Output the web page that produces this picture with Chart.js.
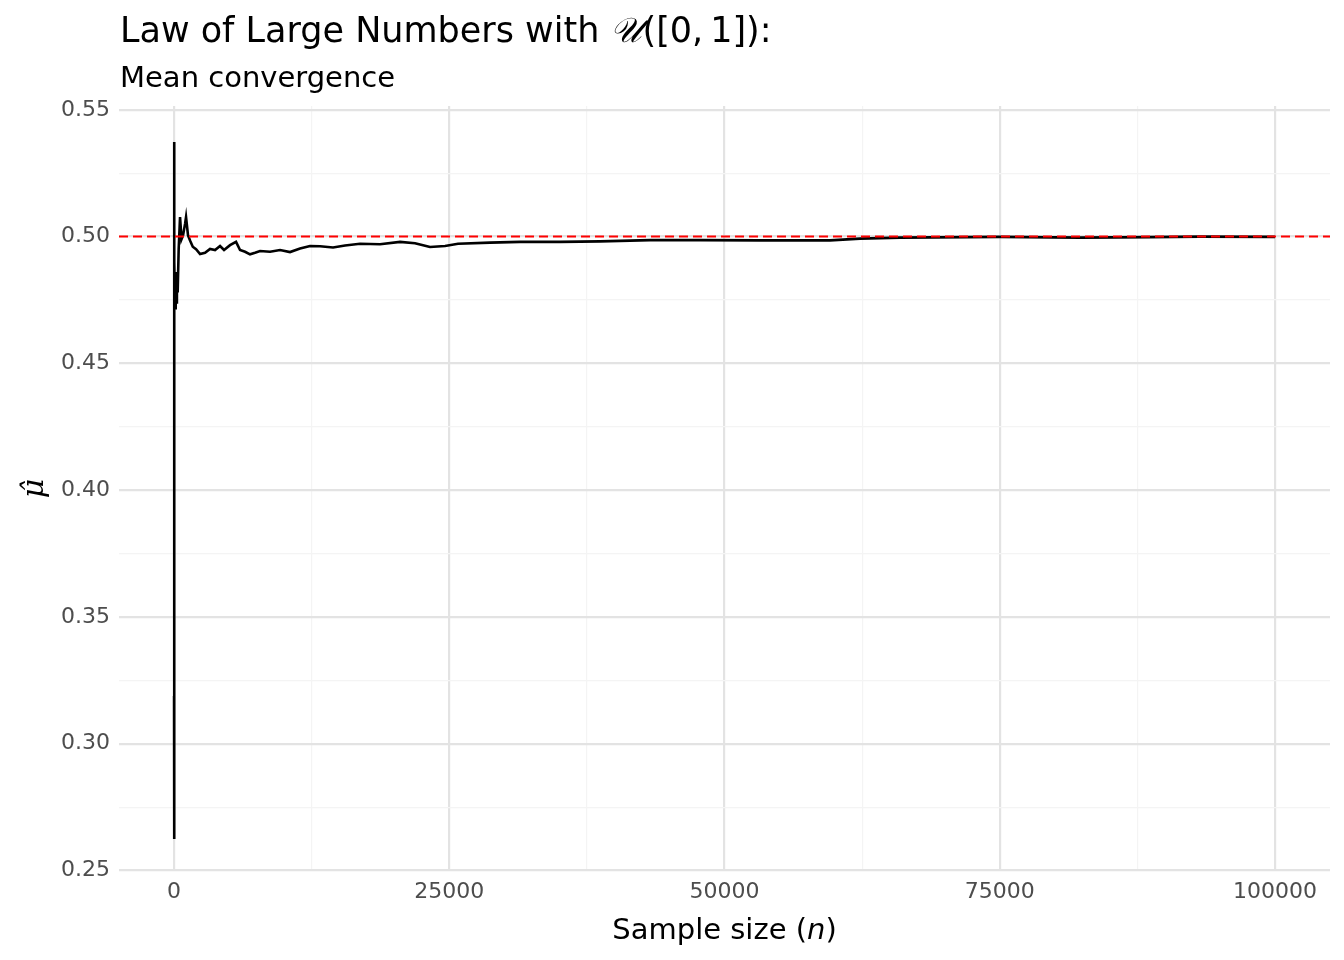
<!DOCTYPE html>
<html>
<head>
<meta charset="utf-8">
<script src="https://cdn.jsdelivr.net/npm/chart.js@4"></script>
<style>
  body { margin: 0; background: #fff; }
  canvas { display: block; }
</style>
</head>
<body>
<canvas id="myChart" width="1344" height="960"></canvas>
<script>
// running mean of U(0,1) draws
let sampleSize = [1, 2, 3, 4, 5, 6, 8, 12, 20, 40,
  70, 100, 150, 200, 260, 330, 420, 545, 680, 817,
  1000, 1090, 1270, 1453, 1700, 2000, 2362, 2816, 3270, 3724,
  4178, 4542, 5086, 5631, 5995, 6449, 6903, 7357, 7811, 8720,
  9628, 10536, 11445, 12353, 13261, 14442, 15532, 16894, 18711, 20528,
  21890, 23252, 24615, 25796, 28702, 31427, 35060, 38694, 43235, 47777,
  53227, 59584, 62309, 65942, 75026, 82292, 88650, 93192, 100000];
let muHat = [0.3188, 0.2624, 0.41, 0.46, 0.50, 0.5373, 0.52, 0.50, 0.48, 0.50,
  0.49, 0.4718, 0.486, 0.474, 0.484, 0.478, 0.495, 0.5077, 0.499, 0.5005,
  0.505, 0.5077, 0.5005, 0.4985, 0.4960, 0.4950, 0.4931, 0.4936, 0.4951, 0.4947,
  0.4963, 0.4947, 0.4966, 0.4979, 0.4947, 0.4940, 0.4930, 0.4936, 0.4943, 0.4940,
  0.4947, 0.4939, 0.4953, 0.4963, 0.4962, 0.4957, 0.4965, 0.4972, 0.4970, 0.4979,
  0.4974, 0.4959, 0.4963, 0.4972, 0.4976, 0.4979, 0.4979, 0.4981, 0.4986, 0.4986,
  0.4985, 0.4985, 0.4992, 0.4996, 0.4999, 0.4996, 0.4998, 0.5000, 0.4999];
let trueMean = 0.5;

let xMajorTicks = [0, 25000, 50000, 75000, 100000];
let xMinorTicks = [12500, 37500, 62500, 87500];
let yMajorTicks = [0.25, 0.30, 0.35, 0.40, 0.45, 0.50, 0.55];
let yMinorTicks = [0.275, 0.325, 0.375, 0.425, 0.475, 0.525];

Chart.defaults.font.family = "'DejaVu Sans', sans-serif";

let lineData = sampleSize.map((n, i) => ({ x: n, y: muHat[i] }));
let refLine = [{ x: -5000, y: trueMean }, { x: 105000, y: trueMean }];

function isMajor(list, v) {
  return list.some(t => Math.abs(t - v) < 1e-9);
}

// titles and axis titles, drawn where ggplot puts them
let textPlugin = {
  id: "texts",
  afterDraw(chart) {
    let c = chart.ctx;
    let area = chart.chartArea;
    c.save();
    c.fillStyle = "#000";
    c.textBaseline = "alphabetic";
    c.textAlign = "left";

    c.font = "35px 'DejaVu Sans'";
    let t1 = "Law of Large Numbers with ";
    c.fillText(t1, 120, 42);
    let w1 = c.measureText(t1).width;
    c.font = "italic 35px 'DejaVu Serif'";
    c.fillText("\u{1D4B0}", 120 + w1, 42);
    let w2 = c.measureText("\u{1D4B0}").width;
    c.font = "35px 'DejaVu Sans'";
    c.fillText("([0,\u20091]):", 120 + w1 + w2, 42);

    c.font = "29px 'DejaVu Sans'";
    c.fillText("Mean convergence", 120, 87);

    // x title with italic n
    let a = "Sample size (", b = "n", d = ")";
    c.font = "29px 'DejaVu Sans'";
    let wa = c.measureText(a).width, wd = c.measureText(d).width;
    c.font = "italic 29px 'DejaVu Sans'";
    let wb = c.measureText(b).width;
    let x0 = (area.left + area.right) / 2 - (wa + wb + wd) / 2;
    c.font = "29px 'DejaVu Sans'";
    c.fillText(a, x0, 939);
    c.font = "italic 29px 'DejaVu Sans'";
    c.fillText(b, x0 + wa, 939);
    c.font = "29px 'DejaVu Sans'";
    c.fillText(d, x0 + wa + wb, 939);

    // y title
    c.translate(43, (area.top + area.bottom) / 2);
    c.rotate(-Math.PI / 2);
    c.textAlign = "center";
    c.font = "italic 30px 'DejaVu Serif'";
    c.fillText("\u03BC\u0302", 0, 0);
    c.restore();
  }
};

let ctx = document.getElementById("myChart").getContext("2d");
let myChart = new Chart(ctx, {
  type: "line",
  data: {
    datasets: [
      {
        label: "true mean",
        data: refLine,
        borderColor: "#FF0000",
        borderWidth: 2,
        borderDash: [9, 5],
        pointRadius: 0,
        order: 0,
      },
      {
        label: "running mean",
        data: lineData,
        borderColor: "#000000",
        borderWidth: 2.6,
        pointRadius: 0,
        tension: 0,
        order: 1,
      },
    ],
  },
  options: {
    responsive: false,
    animation: false,
    devicePixelRatio: 1,
    layout: { padding: { left: 0, right: 14, top: 106, bottom: 0 } },
    plugins: {
      legend: { display: false },
      tooltip: { enabled: false },
    },
    scales: {
      x: {
        type: "linear",
        min: -5000,
        max: 105000,
        border: { display: false },
        afterFit(scale) { scale.height = 89; },
        afterBuildTicks(scale) {
          scale.ticks = xMajorTicks.concat(xMinorTicks).sort((p, q) => p - q).map(v => ({ value: v }));
        },
        grid: {
          drawTicks: false,
          color: c => isMajor(xMajorTicks, c.tick.value) ? "#E3E3E3" : "#F4F4F4",
          lineWidth: c => isMajor(xMajorTicks, c.tick.value) ? 2.2 : 1.2,
        },
        ticks: {
          autoSkip: false,
          maxRotation: 0,
          padding: 8,
          color: "#4D4D4D",
          font: { size: 22 },
          callback: v => isMajor(xMajorTicks, v) ? String(v) : "",
        },
      },
      y: {
        type: "linear",
        min: 0.2498,
        max: 0.5515,
        border: { display: false },
        afterFit(scale) { scale.width = 119; },
        afterBuildTicks(scale) {
          scale.ticks = yMajorTicks.concat(yMinorTicks).sort((p, q) => p - q).map(v => ({ value: v }));
        },
        grid: {
          drawTicks: false,
          color: c => isMajor(yMajorTicks, c.tick.value) ? "#E3E3E3" : "#F4F4F4",
          lineWidth: c => isMajor(yMajorTicks, c.tick.value) ? 2.2 : 1.2,
        },
        ticks: {
          autoSkip: false,
          padding: 9,
          color: "#4D4D4D",
          font: { size: 22 },
          callback: v => isMajor(yMajorTicks, v) ? v.toFixed(2) : "",
        },
      },
    },
  },
  plugins: [textPlugin],
});
</script>
</body>
</html>
